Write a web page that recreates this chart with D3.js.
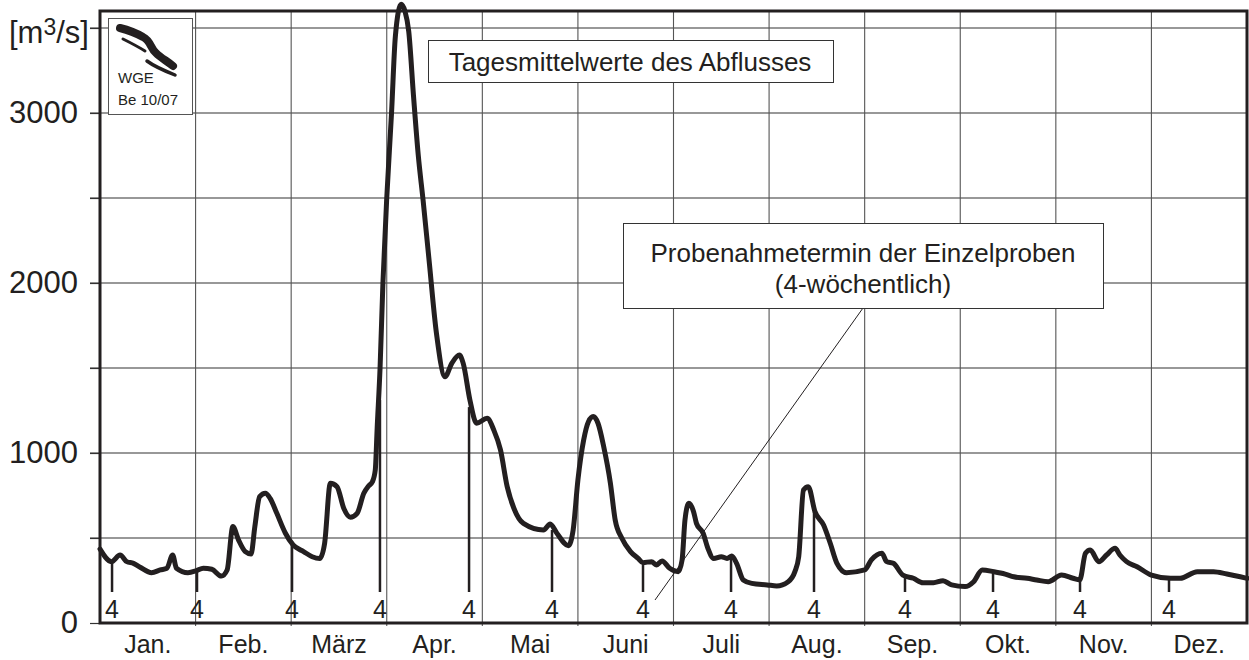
<!DOCTYPE html>
<html>
<head>
<meta charset="utf-8">
<script src="https://cdn.jsdelivr.net/npm/d3@7"></script>
<style>
  html, body { margin: 0; padding: 0; background: #fff; }
  svg { display: block; }
  text { font-family: "Liberation Sans", Arial, Helvetica, sans-serif; fill: #231f20; }
</style>
</head>
<body>
<div id="chart"></div>
<script>
// Monatsbeschriftung
var months = ['Jan.', 'Feb.', 'März', 'Apr.', 'Mai', 'Juni', 'Juli', 'Aug.', 'Sep.', 'Okt.', 'Nov.', 'Dez.']
// y-Achse
var yGrid = [500, 1000, 1500, 2000, 2500, 3000, 3500]
var yLabels = [0, 1000, 2000, 3000]
// Tagesmittelwerte des Abflusses [Monat (0-12), m3/s]
var discharge = [
  [0.00, 435], [0.12, 361], [0.21, 400], [0.28, 361], [0.35, 351], [0.42, 328],
  [0.54, 296], [0.63, 312], [0.70, 322], [0.76, 400], [0.80, 322], [0.92, 296],
  [1.01, 308], [1.08, 322], [1.17, 316], [1.27, 276], [1.33, 312], [1.39, 567],
  [1.45, 488], [1.52, 420], [1.58, 406], [1.62, 567], [1.67, 743], [1.73, 763],
  [1.78, 733], [1.85, 645], [1.94, 528], [2.02, 459], [2.13, 420], [2.22, 390],
  [2.30, 380], [2.35, 469], [2.41, 822], [2.48, 802], [2.55, 675], [2.62, 622],
  [2.69, 645], [2.76, 763], [2.81, 806], [2.85, 831], [2.88, 900], [2.90, 1150],
  [2.93, 1500], [2.96, 2000], [3.00, 2500], [3.05, 3000], [3.09, 3450], [3.15, 3640],
  [3.19, 3600], [3.23, 3480], [3.28, 3100], [3.33, 2750], [3.38, 2488], [3.44, 2150],
  [3.52, 1704], [3.61, 1449], [3.68, 1527], [3.76, 1576], [3.80, 1527], [3.87, 1312],
  [3.94, 1175], [4.05, 1204], [4.12, 1135], [4.19, 1018], [4.26, 802], [4.33, 675],
  [4.43, 586], [4.64, 547], [4.71, 582], [4.78, 528], [4.90, 455], [4.95, 547],
  [5.00, 841], [5.06, 1076], [5.11, 1184], [5.16, 1214], [5.21, 1175], [5.27, 1037],
  [5.34, 822], [5.39, 606], [5.46, 498], [5.55, 420], [5.63, 380], [5.68, 355],
  [5.77, 361], [5.82, 341], [5.88, 365], [5.96, 322], [6.05, 302], [6.09, 371],
  [6.12, 606], [6.16, 704], [6.21, 655], [6.24, 586], [6.31, 528], [6.36, 439],
  [6.42, 380], [6.50, 390], [6.56, 380], [6.61, 394], [6.66, 351], [6.73, 253],
  [6.82, 233], [6.98, 224], [7.08, 218], [7.20, 243], [7.27, 302], [7.31, 390],
  [7.36, 782], [7.41, 802], [7.48, 655], [7.57, 576], [7.64, 469], [7.71, 351],
  [7.81, 296], [8.00, 312], [8.07, 371], [8.18, 410], [8.23, 361], [8.30, 351],
  [8.40, 282], [8.51, 263], [8.61, 237], [8.72, 237], [8.82, 249], [8.91, 224],
  [9.05, 214], [9.14, 243], [9.23, 312], [9.35, 302], [9.47, 288], [9.56, 272],
  [9.70, 263], [9.80, 253], [9.92, 243], [10.06, 282], [10.18, 263], [10.25, 253],
  [10.31, 410], [10.36, 429], [10.45, 361], [10.53, 400], [10.62, 439], [10.67, 400],
  [10.74, 361], [10.85, 331], [11.00, 282], [11.20, 263], [11.30, 263], [11.48, 302],
  [11.65, 302], [11.79, 288], [11.93, 272], [12.00, 263]
]
// Probenahmetermine (4-wöchentlich)
var sampleDates = [0.126, 1.015, 2.009, 2.929, 3.861, 4.729, 5.681, 6.602, 7.470, 8.422, 9.343, 10.253, 11.184]
var sampleQ = [359, 312, 459, 1312, 1270, 547, 341, 400, 655, 270, 294, 259, 253]
var sampleLabel = '4'

var W = 1249, H = 660
var ink = '#231f20'

var svg = d3.select('#chart').append('svg')
  .attr('width', W)
  .attr('height', H)
svg.append('rect').attr('width', W).attr('height', H).attr('fill', '#fff')

var x = d3.scaleLinear().domain([0, 12]).range([100, 1247])
var y = d3.scaleLinear().domain([0, 3600]).range([623, 11])

// Gitter
svg.append('g').selectAll('line')
  .data(yGrid)
  .enter().append('line')
  .attr('x1', 90).attr('x2', x(12))
  .attr('y1', function(d) { return y(d) }).attr('y2', function(d) { return y(d) })
  .attr('stroke', '#333').attr('stroke-width', 1.2)

svg.append('g').selectAll('line')
  .data(d3.range(1, 12))
  .enter().append('line')
  .attr('x1', function(d) { return x(d) }).attr('x2', function(d) { return x(d) })
  .attr('y1', y.range()[1]).attr('y2', y(0) + 3)
  .attr('stroke', '#555').attr('stroke-width', 1.1)

// y-Achse
var yAxis = d3.axisLeft(y)
  .tickValues([0].concat(yGrid))
  .tickSize(10)
  .tickPadding(12)
  .tickFormat(function(d) { return yLabels.indexOf(d) >= 0 ? d : '' })
svg.append('g')
  .attr('transform', 'translate(' + x(0) + ',0)')
  .call(yAxis)
  .call(function(g) {
    g.select('.domain').remove()
    g.selectAll('.tick line').attr('stroke', '#333').attr('stroke-width', 1.2)
    g.selectAll('.tick text')
      .attr('font-size', 31)
      .attr('font-family', '"Liberation Sans", Arial, sans-serif')
      .attr('fill', ink)
  })

var unit = svg.append('text').attr('x', 9).attr('y', 43).attr('font-size', 31)
unit.append('tspan').text('[m')
unit.append('tspan').attr('font-size', 23).attr('dy', -8).text('3')
unit.append('tspan').attr('dy', 8).text('/s]')

// Monate
svg.append('g').selectAll('text')
  .data(months)
  .enter().append('text')
  .attr('x', function(d, i) { return x(i + 0.5) })
  .attr('y', 653)
  .attr('text-anchor', 'middle')
  .attr('font-size', 25)
  .text(function(d) { return d })

// Logo
var logo = svg.append('g')
logo.append('rect')
  .attr('x', 108.5).attr('y', 18.5).attr('width', 84).attr('height', 96)
  .attr('fill', '#fff').attr('stroke', '#555').attr('stroke-width', 1)
logo.append('path')
  .attr('d', 'M120,28 C128,30 136,33 143,37 C151,41 150,48 156,53 C161,58 167,61 173,66')
  .attr('fill', 'none').attr('stroke', ink).attr('stroke-width', 8).attr('stroke-linecap', 'round')
logo.append('path')
  .attr('d', 'M123,39 C131,43 137,46 145,51')
  .attr('fill', 'none').attr('stroke', ink).attr('stroke-width', 3).attr('stroke-linecap', 'round')
logo.append('path')
  .attr('d', 'M147,61 C155,67 165,71 175,75')
  .attr('fill', 'none').attr('stroke', ink).attr('stroke-width', 3.5).attr('stroke-linecap', 'round')
logo.append('text').attr('x', 118).attr('y', 83).attr('font-size', 15)
  .attr('font-family', '"Open Sans", sans-serif').text('WGE')
logo.append('text').attr('x', 118).attr('y', 105).attr('font-size', 15)
  .attr('font-family', '"Open Sans", sans-serif').text('Be 10/07')

// Textkasten Titel
svg.append('rect')
  .attr('x', 428.5).attr('y', 40.5).attr('width', 405).attr('height', 42)
  .attr('fill', '#fff').attr('stroke', '#333').attr('stroke-width', 1)
svg.append('text')
  .attr('x', 630).attr('y', 71).attr('text-anchor', 'middle').attr('font-size', 26)
  .text('Tagesmittelwerte des Abflusses')

// Textkasten Probenahme
svg.append('line')
  .attr('x1', 863).attr('y1', 308).attr('x2', 655).attr('y2', 600)
  .attr('stroke', ink).attr('stroke-width', 1)
svg.append('rect')
  .attr('x', 623.5).attr('y', 223.5).attr('width', 480).attr('height', 85)
  .attr('fill', '#fff').attr('stroke', '#333').attr('stroke-width', 1)
svg.append('text')
  .attr('x', 863).attr('y', 262).attr('text-anchor', 'middle').attr('font-size', 26)
  .text('Probenahmetermin der Einzelproben')
svg.append('text')
  .attr('x', 863).attr('y', 293).attr('text-anchor', 'middle').attr('font-size', 26)
  .text('(4-wöchentlich)')

// Probenahmemarken
var samples = svg.append('g')
samples.selectAll('line')
  .data(sampleDates)
  .enter().append('line')
  .attr('x1', function(d) { return x(d) }).attr('x2', function(d) { return x(d) })
  .attr('y1', function(d, i) { return y(sampleQ[i]) })
  .attr('y2', y(0) - 31)
  .attr('stroke', ink).attr('stroke-width', 2.5)
samples.selectAll('text')
  .data(sampleDates)
  .enter().append('text')
  .attr('x', function(d) { return x(d) })
  .attr('y', 618)
  .attr('text-anchor', 'middle')
  .attr('font-size', 25)
  .text(sampleLabel)

// Abflusskurve
var line = d3.line()
  .x(function(d) { return x(d[0]) })
  .y(function(d) { return y(d[1]) })
  .curve(d3.curveMonotoneX)
svg.append('path')
  .datum(discharge)
  .attr('fill', 'none')
  .attr('stroke', ink)
  .attr('stroke-width', 5)
  .attr('stroke-linejoin', 'round')
  .attr('stroke-linecap', 'round')
  .attr('d', line)

// Rahmen
svg.append('rect')
  .attr('x', x(0)).attr('y', y.range()[1])
  .attr('width', x(12) - x(0)).attr('height', y(0) - y.range()[1])
  .attr('fill', 'none').attr('stroke', ink).attr('stroke-width', 3)
</script>
</body>
</html>
